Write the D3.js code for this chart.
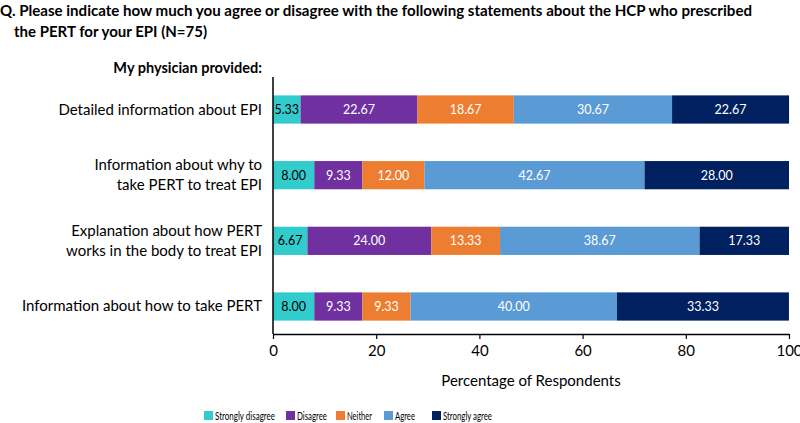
<!DOCTYPE html>
<html><head><meta charset="utf-8">
<script src="https://cdn.jsdelivr.net/npm/d3@7"></script>
<style>body{margin:0;background:#fff;} svg{display:block;font-family:Lato,"Open Sans",sans-serif;}</style>
</head><body>
<svg id="c" width="800" height="423"></svg>
<script>
const categories = ["Detailed information about EPI", "Information about why to|take PERT to treat EPI", "Explanation about how PERT|works in the body to treat EPI", "Information about how to take PERT"];
const seriesNames = ["Strongly disagree", "Disagree", "Neither", "Agree", "Strongly agree"];
const stronglyDisagree = [5.33, 8.00, 6.67, 8.00];
const disagree = [22.67, 9.33, 24.00, 9.33];
const neither = [18.67, 12.00, 13.33, 9.33];
const agree = [30.67, 42.67, 38.67, 40.00];
const stronglyAgree = [22.67, 28.00, 17.33, 33.33];
const xTicks = [0, 20, 40, 60, 80, 100];
const colors = ["#33CCCC", "#7030A0", "#ED7D31", "#5B9BD5", "#002060"];
const labelColors = ["#000", "#fff", "#fff", "#fff", "#fff"];

const svg = d3.select("#c");
const values = [stronglyDisagree, disagree, neither, agree, stronglyAgree];
const rows = categories.map((c, i) => { const o = {cat: c}; seriesNames.forEach((s, j) => o[s] = values[j][i]); return o; });
const stack = d3.stack().keys(seriesNames)(rows);

const x = d3.scaleLinear().domain([0, 100]).range([273, 789]);
const y = d3.scaleBand().domain(categories).range([77, 339]).paddingInner(0.57).paddingOuter(0.28);

// title
const title = svg.append("text").attr("font-weight", "bold").attr("font-size", 15).attr("fill", "#000");
title.append("tspan").attr("x", 0).attr("y", 16).attr("textLength", 752).attr("lengthAdjust", "spacingAndGlyphs").text("Q. Please indicate how much you agree or disagree with the following statements about the HCP who prescribed");
title.append("tspan").attr("x", 14).attr("y", 37).text("the PERT for your EPI (N=75)");

svg.append("text").attr("x", 262).attr("y", 73).attr("text-anchor", "end").attr("font-weight", "bold").attr("font-size", 14.5).text("My physician provided:");

// bars
stack.forEach((layer, j) => {
  const g = svg.append("g");
  g.selectAll("rect").data(layer).join("rect")
    .attr("x", d => x(d[0])).attr("width", d => x(d[1]) - x(d[0]))
    .attr("y", d => y(d.data.cat)).attr("height", y.bandwidth())
    .attr("fill", colors[j]);
  g.selectAll("text").data(layer).join("text")
    .attr("x", d => (x(d[0]) + x(d[1])) / 2)
    .attr("y", d => y(d.data.cat) + y.bandwidth() / 2 + 4.5)
    .attr("text-anchor", "middle").attr("font-size", 12.5).attr("fill", labelColors[j])
    .text(d => (d[1] - d[0]).toFixed(2));
});

// category labels
categories.forEach(c => {
  const lines = c.split("|");
  const cy = y(c) + y.bandwidth() / 2;
  const t = svg.append("text").attr("text-anchor", "end").attr("font-size", 15).attr("fill", "#000");
  lines.forEach((l, k) => {
    t.append("tspan").attr("x", 262).attr("y", cy + 5 + (k - (lines.length - 1) / 2) * 20).text(l);
  });
});

// axes
svg.append("line").attr("x1", 273).attr("x2", 273).attr("y1", 77).attr("y2", 334).attr("stroke", "#000").attr("stroke-width", 1.5);
const xa = svg.append("g").attr("transform", "translate(0,334)")
  .call(d3.axisBottom(x).tickValues(xTicks).tickSize(5).tickSizeOuter(0).tickPadding(6));
xa.select(".domain").attr("stroke", "#000").attr("stroke-width", 1.5);
xa.selectAll(".tick line").attr("stroke", "#000").attr("stroke-width", 1.2);
xa.selectAll(".tick text").attr("font-size", 15).attr("font-family", "Lato,sans-serif").attr("fill", "#000");

svg.append("text").attr("x", 531).attr("y", 386).attr("text-anchor", "middle").attr("font-size", 15).text("Percentage of Respondents");

// legend
const legX = [204, 286, 336, 384, 432];
const legW = [60, 30, 25, 20, 49];
seriesNames.forEach((s, j) => {
  svg.append("rect").attr("x", legX[j]).attr("y", 411).attr("width", 9).attr("height", 9).attr("fill", colors[j]);
  svg.append("text").attr("x", legX[j] + 11).attr("y", 420).attr("font-size", 11.5).attr("fill", "#000")
    .attr("textLength", legW[j]).attr("lengthAdjust", "spacingAndGlyphs").text(s);
});
</script>
</body></html>
